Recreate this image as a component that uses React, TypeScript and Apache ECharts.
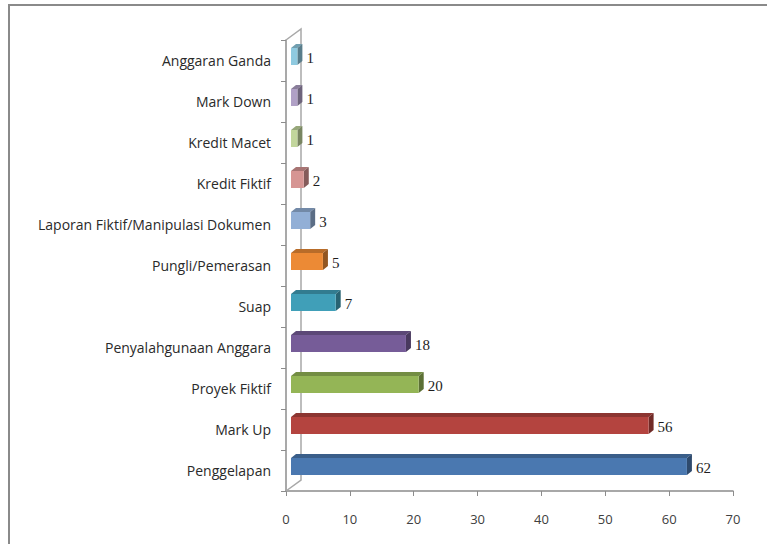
import React, { useEffect, useRef } from "react";
import * as echarts from "echarts";

const categories = [
  "Penggelapan",
  "Mark Up",
  "Proyek Fiktif",
  "Penyalahgunaan Anggara",
  "Suap",
  "Pungli/Pemerasan",
  "Laporan Fiktif/Manipulasi Dokumen",
  "Kredit Fiktif",
  "Kredit Macet",
  "Mark Down",
  "Anggaran Ganda",
];
const values = [62, 56, 20, 18, 7, 5, 3, 2, 1, 1, 1];
const barColors = [
  "#4a78b0",
  "#b4443f",
  "#94b556",
  "#765c98",
  "#409fb8",
  "#ec8a35",
  "#92afd6",
  "#d69593",
  "#c2d69c",
  "#b0a0c6",
  "#8fcae0",
];
const xTicks = { min: 0, max: 70, interval: 10 };

function shade(hex: string, f: number): string {
  const n = parseInt(hex.slice(1), 16);
  const r = Math.round(((n >> 16) & 255) * f);
  const g = Math.round(((n >> 8) & 255) * f);
  const b = Math.round((n & 255) * f);
  return "rgb(" + r + "," + g + "," + b + ")";
}

export default function App() {
  const ref = useRef<HTMLDivElement>(null);
  useEffect(() => {
    if (!ref.current) return;
    const chart = echarts.init(ref.current, null, { renderer: "svg" });
    const dx = 5;
    const dy = 4;
    const h = 17;
    chart.setOption({
      animation: false,
      backgroundColor: "#ffffff",
      graphic: [
        {
          type: "rect",
          shape: { x: 9, y: 5, width: 800, height: 600 },
          style: { fill: "none", stroke: "#8a8a8a", lineWidth: 2 },
          silent: true,
        },
      ],
      grid: { left: 286, right: 34, top: 40, bottom: 53, containLabel: false },
      xAxis: {
        type: "value",
        min: xTicks.min,
        max: xTicks.max,
        interval: xTicks.interval,
        axisLine: { show: true, lineStyle: { color: "#8c8c8c", width: 1.5 } },
        axisTick: { show: true, length: 5, lineStyle: { color: "#8c8c8c" } },
        splitLine: { show: false },
        axisLabel: {
          margin: 21,
          color: "#404040",
          fontFamily: "Open Sans",
          fontSize: 13,
        },
      },
      yAxis: {
        type: "category",
        data: categories,
        axisLine: { show: true, lineStyle: { color: "#8c8c8c", width: 1.5 } },
        axisTick: { show: true, length: 5, lineStyle: { color: "#8c8c8c" } },
        axisLabel: {
          margin: 15,
          color: "#2a2a2a",
          fontFamily: "Open Sans",
          fontSize: 14,
        },
        splitLine: { show: false },
      },
      series: [
        {
          type: "custom",
          z: 1,
          silent: true,
          data: [[0, 0]],
          renderItem: (params: any, api: any) => {
            const cs = params.coordSys;
            const x = cs.x;
            const y = cs.y;
            const hh = cs.height;
            return {
              type: "polyline",
              shape: {
                points: [
                  [x, y],
                  [x + 15, y - 11],
                  [x + 15, y + hh - 11],
                  [x, y + hh],
                ],
              },
              style: { fill: "none", stroke: "#a8a8a8", lineWidth: 1.5 },
            };
          },
        },
        {
          type: "custom",
          z: 2,
          data: values.map((v, i) => [v, i]),
          renderItem: (params: any, api: any) => {
            const v = api.value(0);
            const c = api.value(1);
            const p0 = api.coord([0, c]);
            const p1 = api.coord([v, c]);
            const x0 = p0[0] + 5;
            const x1 = p1[0] + 5;
            const yc = p0[1] - 4;
            const yt = yc - h / 2;
            const yb = yc + h / 2;
            const col = barColors[params.dataIndex];
            return {
              type: "group",
              children: [
                {
                  type: "polygon",
                  shape: {
                    points: [
                      [x0, yt],
                      [x0 + dx, yt - dy],
                      [x1 + dx, yt - dy],
                      [x1, yt],
                    ],
                  },
                  style: { fill: shade(col, 0.78) },
                },
                {
                  type: "polygon",
                  shape: {
                    points: [
                      [x1, yt],
                      [x1 + dx, yt - dy],
                      [x1 + dx, yb - dy],
                      [x1, yb],
                    ],
                  },
                  style: { fill: shade(col, 0.62) },
                },
                {
                  type: "rect",
                  shape: { x: x0, y: yt, width: x1 - x0, height: h },
                  style: { fill: col },
                },
                {
                  type: "text",
                  x: x1 + dx + 4,
                  y: yc + 1,
                  style: {
                    text: String(v),
                    fill: "#1e1e1e",
                    font: "15px 'Liberation Serif'",
                    verticalAlign: "middle",
                    align: "left",
                  },
                },
              ],
            };
          },
        },
      ],
    });
    return () => chart.dispose();
  }, []);
  return (
    <div
      ref={ref}
      style={{ position: "fixed", left: 0, top: 0, width: 767, height: 544 }}
    />
  );
}
